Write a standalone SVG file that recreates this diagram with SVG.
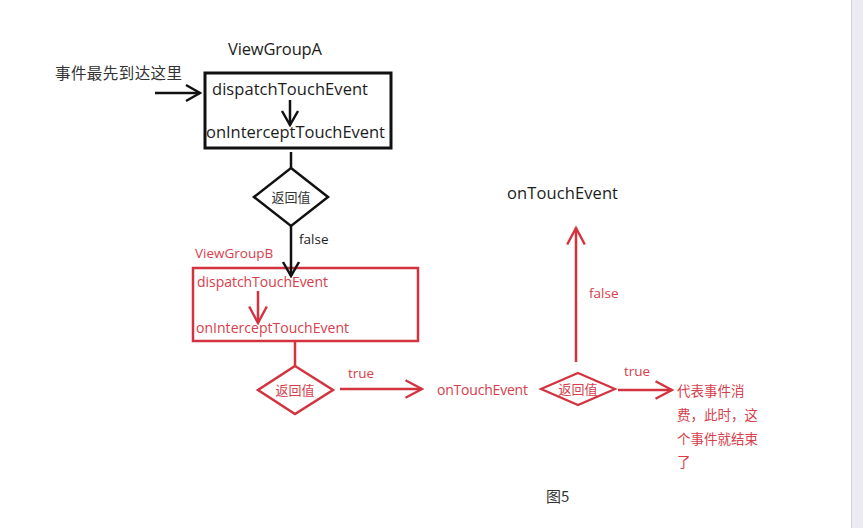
<svg xmlns="http://www.w3.org/2000/svg" width="863" height="528" viewBox="0 0 863 528">
<defs>
<style>
.t{font-family:"Open Sans","Liberation Sans","Noto Sans CJK SC",sans-serif}
.r{fill:#d6404c}
.k{stroke:#111;stroke-width:2.5;fill:none}
.rs{stroke:#d3333f;stroke-width:2.5;fill:none}
.cj{font-family:"Noto Sans CJK SC",sans-serif}
</style>
<marker id="ak" viewBox="0 0 20 20" refX="18" refY="10" markerWidth="20" markerHeight="20" markerUnits="userSpaceOnUse" orient="auto">
<path d="M4,2 L18,10 L4,18" fill="none" stroke="#111" stroke-width="2.5"/>
</marker>
<marker id="ar" viewBox="0 0 20 20" refX="18" refY="10" markerWidth="22" markerHeight="22" markerUnits="userSpaceOnUse" orient="auto">
<path d="M3,2 L18,10 L3,18" fill="none" stroke="#d3333f" stroke-width="2.2"/>
</marker>
</defs>
<rect width="863" height="528" fill="#fff"/>
<rect x="851" y="0" width="12" height="528" fill="#eceaf2"/>
<line x1="851.5" y1="0" x2="851.5" y2="528" stroke="#d4d4d8"/>

<g id="labelStart"><text class="t cj" x="55" y="79" font-size="15.5" textLength="127" fill="#333">事件最先到达这里</text></g>

<g id="viewGroupA" fill="#1c1c1c">
<text class="t" x="228" y="55" font-size="16.5" textLength="94">ViewGroupA</text>
<rect x="205" y="73" width="186" height="75" fill="none" stroke="#111" stroke-width="3"/>
<text class="t" x="212" y="95" font-size="16.5" textLength="156">dispatchTouchEvent</text>
<text class="t" x="206" y="138" font-size="16.5" textLength="179">onInterceptTouchEvent</text>
</g>

<g id="decisionA">
<polygon points="291,168 328,197 291,226 254,197" fill="#fff" stroke="#111" stroke-width="2.5"/>
<text class="t cj" x="291" y="202" font-size="13" text-anchor="middle" fill="#333">返回值</text>
</g>

<g id="viewGroupB">
<text class="t r" x="195" y="258" font-size="13.5">ViewGroupB</text>
<rect x="193" y="268" width="225" height="73" fill="none" stroke="#d3333f" stroke-width="2.5"/>
<text class="t r" x="197" y="287" font-size="14" textLength="131">dispatchTouchEvent</text>
<text class="t r" x="196" y="333" font-size="14" textLength="153">onInterceptTouchEvent</text>
</g>

<g id="decisionB">
<polygon points="295,366 333,390 295,414 258,390" fill="#fff" stroke="#d3333f" stroke-width="2.5"/>
<text class="t r cj" x="295" y="395" font-size="13" text-anchor="middle">返回值</text>
</g>

<g id="onTouchEventB"><text class="t r" x="437" y="395" font-size="14" textLength="91">onTouchEvent</text></g>

<g id="decisionC">
<polygon points="578,373 615,389 578,405 541,389" fill="#fff" stroke="#d3333f" stroke-width="2.2"/>
<text class="t r cj" x="578" y="394" font-size="13" text-anchor="middle">返回值</text>
</g>

<g id="onTouchEventA"><text class="t" x="507" y="199" font-size="16.5" textLength="111" fill="#1c1c1c">onTouchEvent</text></g>

<g id="consumed">
<text class="t r cj" x="677" y="396" font-size="13.5">代表事件消</text>
<text class="t r cj" x="677" y="420" font-size="13.5">费，此时，这</text>
<text class="t r cj" x="677" y="444" font-size="13.5">个事件就结束</text>
<text class="t r cj" x="677" y="467" font-size="13.5">了</text>
</g>

<g id="caption"><text class="t cj" x="546" y="502" font-size="15" fill="#333">图5</text></g>

<g id="connectors">
<line x1="155" y1="93" x2="200" y2="93" class="k" marker-end="url(#ak)"/>
<line x1="290" y1="100" x2="290" y2="125" class="k" marker-end="url(#ak)"/>
<line x1="291" y1="152" x2="291" y2="168" class="k"/>
<line x1="291" y1="226" x2="291" y2="276" class="k" marker-end="url(#ak)"/>
<text class="t" x="299" y="244" font-size="13.5" fill="#1c1c1c">false</text>
<line x1="258" y1="291" x2="258" y2="323" class="rs" marker-end="url(#ar)"/>
<line x1="295" y1="341" x2="295" y2="366" class="rs"/>
<line x1="340" y1="389" x2="422" y2="389" class="rs" marker-end="url(#ar)"/>
<text class="t r" x="348" y="378" font-size="13.5">true</text>
<line x1="576" y1="362" x2="576" y2="228" class="rs" marker-end="url(#ar)"/>
<text class="t r" x="589" y="298" font-size="13.5">false</text>
<line x1="618" y1="390" x2="672" y2="390" class="rs" marker-end="url(#ar)"/>
<text class="t r" x="624" y="376" font-size="13.5">true</text>
</g>
</svg>
